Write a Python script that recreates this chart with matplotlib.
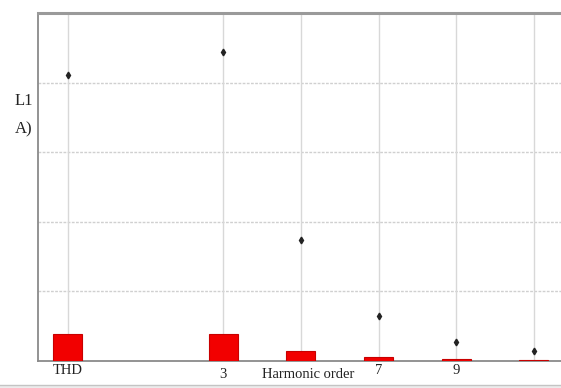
import matplotlib
matplotlib.use("Agg")
import matplotlib.pyplot as plt
from matplotlib.transforms import blended_transform_factory

# Harmonic spectrum of phase L1 current
categories = ["THD", "3", "5", "7", "9", "11"]
positions = [-1, 3, 5, 7, 9, 11]          # harmonic order axis (THD placed left of order 3)
bar_values = [7.8, 7.8, 2.9, 1.2, 0.6, 0.3]
point_values = [82.2, 88.8, 34.8, 12.9, 5.5, 2.9]
tick_labels = ["THD", "3", "", "7", "9", ""]
tick_drop = [0, 5, 0, 0, 0, 0]             # extra downward offset of a label, px

fig = plt.figure(figsize=(5.61, 3.88), dpi=100)
ax = fig.add_axes([38 / 561, 27 / 388, 1 - 38 / 561, (361 - 13) / 388])

ax.set_xlim(-1.77, 11.7)
ax.set_ylim(0, 100)

# grid
for y in [20, 40, 60, 80]:
    ax.axhline(y, color="#d0d0d0", lw=1.0, ls=(0, (2, 1)), zorder=0)
for x in positions:
    ax.axvline(x, color="#d8d8d8", lw=1.0, zorder=0)

ax.bar(positions, bar_values, width=0.75, color="#f20000",
       edgecolor="#c80000", lw=0.8, zorder=3)
ax.plot(positions, point_values, ls="none", marker="d", ms=3.4,
        color="#222222", zorder=4)

for s in ["left", "bottom"]:
    ax.spines[s].set_color("#8a8a8a")
    ax.spines[s].set_linewidth(1.3)
ax.spines["top"].set_color("#9a9a9a")
ax.spines["top"].set_linewidth(2.2)
ax.spines["right"].set_visible(False)

ax.set_xticks([])
ax.set_yticks([])

# light strip along the lower edge of the window
fig.patches.append(plt.Rectangle((0, 0), 1, 3 / 388, transform=fig.transFigure,
                                 facecolor="#ececec", edgecolor="none"))
fig.lines.append(plt.Line2D([0, 1], [3.5 / 388, 3.5 / 388], transform=fig.transFigure,
                            color="#c4c4c4", lw=1.0))

serif = "Liberation Serif"
base = blended_transform_factory(ax.transData, fig.transFigure)
for x, lab, dy in zip(positions, tick_labels, tick_drop):
    if lab:
        ax.text(x, (388 - 370 - dy) / 388, lab, transform=base,
                ha="center", va="center", fontsize=10.5, family=serif,
                color="#222222")
fig.text(308 / 561, (388 - 375) / 388, "Harmonic order", ha="center",
         va="center", fontsize=10.5, family=serif, color="#222222")

fig.text(24 / 561, (388 - 101) / 388, "L1", ha="center", va="center",
         fontsize=12, family=serif, color="#222222")
fig.text(24 / 561, (388 - 129) / 388, "A)", ha="center", va="center",
         fontsize=12, family=serif, color="#222222")

fig.savefig("out.png", dpi=100)
